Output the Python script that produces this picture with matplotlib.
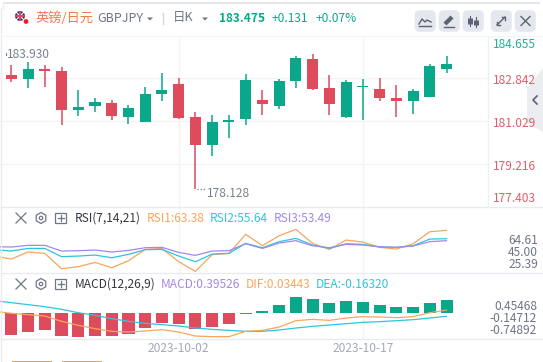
# GBPJPY daily K-line panel with RSI and MACD

import pandas as pd
import matplotlib.pyplot as plt
from matplotlib.patches import Circle, FancyBboxPatch, Polygon, Rectangle, RegularPolygon

plt.rcParams['font.family'] = ['Noto Sans CJK SC', 'DejaVu Sans']

W, H = 543, 362
STEP = 16.74

GREEN = "#0aa88a"
RED = "#dd4b5c"
ORANGE = "#f7a65e"
CYAN = "#2fc4de"
PURPLE = "#a388e8"
GRID = "#f3f4f7"
LINE = "#e9ebf1"
GREY = "#7b8090"
BTN = "#e4e7ee"

# candles
dates = pd.bdate_range("2023-09-18", periods=27)
opens = [182.991, 182.821, 183.245, 183.160, 181.505, 181.674, 181.802, 181.207, 180.995, 182.184,
         182.608, 181.207, 180.018, 180.995, 181.122, 181.929, 181.674, 182.736, 183.670, 182.439,
         181.207, 182.481, 182.396, 182.014, 181.887, 182.056, 183.245]
closes = [182.821, 183.245, 183.160, 181.505, 181.632, 181.844, 181.250, 181.589, 182.184, 182.354,
          181.165, 180.018, 180.995, 181.080, 182.778, 181.759, 182.736, 183.712, 182.396, 181.759,
          182.693, 182.524, 182.014, 181.887, 182.311, 183.373, 183.475]
highs = [183.415, 183.543, 183.415, 183.330, 182.354, 182.014, 181.929, 181.717, 182.481, 183.076,
         182.863, 181.420, 181.292, 181.292, 183.033, 182.354, 182.821, 183.797, 183.882, 182.991,
         182.778, 182.821, 182.863, 182.566, 182.396, 183.458, 183.797]
lows = [182.693, 182.439, 182.481, 180.868, 181.250, 181.420, 181.080, 180.910, 181.080, 181.887,
        181.122, 178.128, 179.551, 180.316, 180.868, 181.292, 181.547, 182.439, 182.354, 181.292,
        181.165, 181.080, 181.887, 181.207, 181.335, 182.056, 183.076]
price_ticks = ["184.655", "182.842", "181.029", "179.216", "177.403"]
price_grid = [184.655, 182.842, 181.029, 179.216, 177.403]
price_text_y = [44.5, 80.7, 123.3, 166.7, 198.7]

# RSI lines, first value is the bar just left of the window
rsi1 = [39.3, 34.5, 45.8, 43.6, 19.0, 22.2, 29.1, 20.6, 31.8, 50.0, 51.6, 30.2, 14.7, 41.5,
        43.6, 74.2, 55.9, 72.0, 82.2, 59.7, 50.0, 65.0, 61.8, 53.3, 50.6, 59.1, 78.4, 80.6]
rsi2 = [49.5, 47.4, 51.6, 51.6, 38.3, 39.3, 40.9, 36.6, 42.0, 49.5, 50.0, 39.3, 30.2, 42.5,
        43.6, 59.7, 52.7, 62.4, 67.7, 57.0, 51.6, 59.1, 58.1, 53.8, 53.3, 55.9, 66.6, 67.2]
rsi3 = [54.3, 53.8, 56.5, 56.5, 47.4, 47.9, 49.0, 45.8, 48.4, 52.7, 53.3, 45.2, 40.4, 47.4,
        47.9, 59.1, 51.6, 60.2, 64.0, 55.9, 52.7, 58.1, 57.0, 54.3, 53.3, 55.4, 62.4, 64.0]
rsi_ticks = ["64.61", "45.00", "25.39"]
rsi_text_y = [240.5, 252.7, 264.7]

# MACD
hist = [-1.076, -0.929, -0.831, -1.125, -1.174, -1.125, -1.125, -1.027, -0.734, -0.489,
        -0.554, -0.782, -0.685, -0.554, -0.049, 0.082, 0.391, 0.782, 0.685, 0.489,
        0.587, 0.538, 0.391, 0.293, 0.293, 0.489, 0.636]
dea = [0.603, 0.505, 0.408, 0.310, 0.179, 0.016, -0.114, -0.277, -0.408, -0.505, -0.571, -0.636,
       -0.734, -0.799, -0.848, -0.897, -0.897, -0.831, -0.734, -0.652, -0.587, -0.522, -0.456,
       -0.424, -0.375, -0.326, -0.245, -0.163]
dif = [0.082, -0.016, -0.082, -0.147, -0.408, -0.603, -0.766, -0.897, -0.929, -0.880, -0.815,
       -0.929, -1.125, -1.157, -1.157, -0.897, -0.848, -0.685, -0.375, -0.310, -0.359, -0.245,
       -0.179, -0.196, -0.228, -0.179, 0.016, 0.147]
macd_ticks = ["0.45468", "-0.14712", "-0.74892"]
macd_text_y = [306.3, 318.3, 331.0]

idx = list(range(27))
line_idx = list(range(-1, 27))
date_labels = ["2023-10-02", "2023-10-17"]
date_idx = [dates.get_loc(d) for d in date_labels]


def panel(top, bottom, right=488):
    ax = fig.add_axes([0, 1 - bottom / H, right / W, (bottom - top) / H])
    ax.set_xlim(-11.3 / STEP, (right - 11.3) / STEP)
    ax.axis("off")
    ax.patch.set_visible(False)
    for d in date_idx:
        ax.axvline(d, color=GRID, lw=1, zorder=0)
    return ax


fig = plt.figure(figsize=(W / 100, H / 100), dpi=100, facecolor="white")

# price panel
ax1 = panel(35.5, 207)
ax1.set_ylim(177.364, 184.67)
for g in price_grid[1:-1]:
    ax1.axhline(g, color=GRID, lw=1, zorder=0)
colors = [GREEN if c >= o else RED for o, c in zip(opens, closes)]
ax1.vlines(idx, lows, highs, colors=colors, lw=1.1, zorder=2)
ax1.bar(idx, [max(abs(c - o), 0.03) for o, c in zip(opens, closes)],
        bottom=[min(o, c) for o, c in zip(opens, closes)],
        width=0.66, color=colors, zorder=3)
ax1.plot([11.08, 11.6], [178.128, 178.128], color=GREY, lw=0.9, ls=(0, (1, 1.5)))
ax1.annotate("178.128", xy=(11.6, 178.128), xytext=(1, -4), textcoords="offset pixels",
             color=GREY, fontsize=8.6, va="center", ha="left")
ax1.annotate("183.930", xy=(-0.255, 183.93), xytext=(0, -2), textcoords="offset pixels",
             color=GREY, fontsize=8.6, va="center", ha="left")
ax1.plot([-0.33, -0.33], [183.93, 183.86], color=GREY, lw=0.8)

# RSI panel
ax2 = panel(207, 273)
ax2.set_ylim(12.1, 118.1)
ax2.plot(line_idx, rsi1, color=ORANGE, lw=0.9)
ax2.plot(line_idx, rsi2, color=CYAN, lw=0.9)
ax2.plot(line_idx, rsi3, color=PURPLE, lw=0.9)

# MACD panel
ax3 = panel(273, 339)
ax3.set_ylim(-1.271, 1.956)
ax3.bar(idx, hist, width=0.72, color=[GREEN if v >= 0 else RED for v in hist], zorder=2)
ax3.plot(line_idx, dea, color=CYAN, lw=0.9, zorder=3)
ax3.plot(line_idx, dif, color=ORANGE, lw=0.9, zorder=3)

# everything around the plots, in pixel coordinates
ov = fig.add_axes([0, 0, 1, 1], zorder=5)
ov.set_xlim(0, W)
ov.set_ylim(H, 0)
ov.axis("off")
ov.patch.set_visible(False)

# card edges and separators
ov.add_patch(Rectangle((3, 2), 537, 2.2, color=BTN, lw=0))
ov.plot([1, 1], [8, H], color=LINE, lw=1)
ov.plot([3, 3], [5, 8], color=LINE, lw=1)
ov.plot([1, 543], [35.5, 35.5], color="#f4f5f8", lw=1)
for y in [207.3, 273.3, 339.3]:
    ov.plot([1, 543], [y, y], color=LINE, lw=1)
ov.plot([488, 488], [35.5, 207], color="#f0f1f5", lw=1)
ov.add_patch(Rectangle((12, 361), 40, 1, color="#d9a765", lw=0))
ov.add_patch(Rectangle((62, 361), 40, 1, color="#d9a765", lw=0))

# header
ov.add_patch(Circle((20, 16), 5, color="#2a3a7c", lw=0))
ov.plot([16.5, 23.5], [12.5, 19.5], color="white", lw=0.8)
ov.plot([16.5, 23.5], [19.5, 12.5], color="white", lw=0.8)
ov.plot([15, 25], [16, 16], color="#e0455a", lw=1.4, solid_capstyle="butt")
ov.plot([20, 20], [11, 21], color="#e0455a", lw=1.4, solid_capstyle="butt")
ov.add_patch(Circle((26, 21.5), 2.4, color="#f01e1e", lw=0))
ov.text(35.5, 18, "英镑/日元", color="#f4784f", fontsize=9.5, va="center")
ov.text(97, 18, "GBPJPY", color="#6f7585", fontsize=9, va="center")
ov.add_patch(Polygon([(147, 17.5), (153, 17.5), (150, 20.5)], color="#6f7585", lw=0))
ov.plot([163, 163], [13, 24], color="#d5d8e0", lw=1)
ov.text(173, 18, "日K", color="#6f7585", fontsize=9, va="center")
ov.add_patch(Polygon([(202, 17.5), (208, 17.5), (205, 20.5)], color="#6f7585", lw=0))
ov.text(219, 18, "183.475", color=GREEN, fontsize=8.6, va="center", fontweight="bold")
ov.text(272, 18, "+0.131", color=GREEN, fontsize=8.6, va="center", fontweight="medium")
ov.text(316, 18, "+0.07%", color=GREEN, fontsize=8.6, va="center", fontweight="medium")

# toolbar buttons
for x in [415.5, 439.5, 463.5, 491.5, 515.5]:
    ov.add_patch(FancyBboxPatch((x + 2, 13), 15.5, 16, boxstyle="round,pad=0,rounding_size=2",
                                mutation_aspect=1, fc=BTN, ec=BTN, lw=4))
ICON = "#5c6270"
ov.plot([419, 422, 425, 427, 431], [24, 19, 22, 20, 22], color=ICON, lw=1)
ov.plot([419, 431], [26, 26], color=ICON, lw=1)
ov.plot([445, 452], [24, 17], color=ICON, lw=3, solid_capstyle="butt")
ov.plot([444, 454], [26.5, 26.5], color=ICON, lw=1)
for x, y0, y1, a, b in [(470, 16, 26, 18, 24), (476, 17, 27, 20, 25)]:
    ov.plot([x, x], [y0, y1], color=ICON, lw=0.8)
    ov.plot([x, x], [a, b], color=ICON, lw=3.6, solid_capstyle="butt")
ov.plot([497, 505], [25, 17], color=ICON, lw=1)
ov.plot([502, 505, 505], [17, 17, 20], color=ICON, lw=1)
ov.plot([497, 497, 500], [22, 25, 25], color=ICON, lw=1)
ov.plot([521, 530], [16.5, 25.5], color=ICON, lw=1)
ov.plot([521, 530], [25.5, 16.5], color=ICON, lw=1)

# collapse tab
ov.add_patch(Polygon([(543, 68), (527, 88), (527, 123), (543, 132)], color="#ecedf1", lw=0))
ov.plot([537, 533, 537], [96, 100, 104], color="#5c6270", lw=1.2)

# axis labels
for t, y, c in zip(price_ticks, price_text_y, [GREEN] + [RED] * 4):
    ov.text(536, y, t, color=c, fontsize=8.6, va="center", ha="right", alpha=0.9)
for t, y in zip(rsi_ticks, rsi_text_y):
    ov.text(538, y, t, color="#6f7585", fontsize=8.6, va="center", ha="right")
for t, y in zip(macd_ticks, macd_text_y):
    ov.text(537, y, t, color="#6f7585", fontsize=8.6, va="center", ha="right")
for d, t in zip(date_idx, date_labels):
    ov.text(11.3 + STEP * d, 348.5, t, color="#a3a8b5", fontsize=8.6, va="center", ha="center")


# panel title rows
def title_icons(y):
    ov.plot([16, 26], [y - 5, y + 5], color="#6f7585", lw=0.9)
    ov.plot([16, 26], [y + 5, y - 5], color="#6f7585", lw=0.9)
    ov.add_patch(RegularPolygon((41, y), 6, radius=5.5, fc="none", ec="#6f7585", lw=0.9))
    ov.add_patch(Circle((41, y), 1.7, fc="none", ec="#6f7585", lw=0.9))
    ov.add_patch(Rectangle((55, y - 5), 11, 10, fc="none", ec="#6f7585", lw=0.9))
    ov.plot([57.5, 63.5], [y, y], color="#6f7585", lw=0.9)
    ov.plot([60.5, 60.5], [y - 3, y + 3], color="#6f7585", lw=0.9)


title_icons(218)
ov.text(75, 218, "RSI(7,14,21)", color="#33363f", fontsize=8.6, va="center")
ov.text(147, 218, "RSI1:63.38", color=ORANGE, fontsize=8.6, va="center")
ov.text(210, 218, "RSI2:55.64", color=CYAN, fontsize=8.6, va="center")
ov.text(274, 218, "RSI3:53.49", color=PURPLE, fontsize=8.6, va="center")

title_icons(284)
ov.text(75, 284, "MACD(12,26,9)", color="#33363f", fontsize=8.6, va="center")
ov.text(161, 284, "MACD:0.39526", color=PURPLE, fontsize=8.6, va="center")
ov.text(246, 284, "DIF:0.03443", color=ORANGE, fontsize=8.6, va="center")
ov.text(316, 284, "DEA:-0.16320", color=CYAN, fontsize=8.6, va="center")

plt.savefig("out.png", dpi=100)
